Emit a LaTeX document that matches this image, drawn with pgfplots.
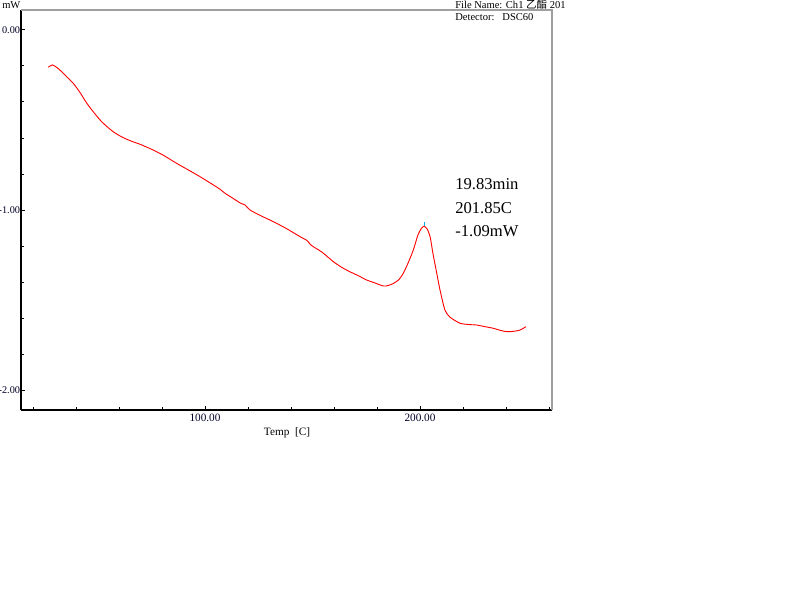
\documentclass[border=0pt]{standalone}
\usepackage{fontspec}
\setmainfont{Liberation Serif}
\newfontfamily\cjk{Noto Sans CJK SC}
\usepackage{pgfplots}
\pgfplotsset{compat=1.18}

% one reference pixel
\newlength{\pxu}
\setlength{\pxu}{0.25mm}

\pgfplotstableread{
T      mW
27.1  -0.207
29.0  -0.194
31.5  -0.212
34.1  -0.241
38.7  -0.296
42.0  -0.350
45.0  -0.407
48.2  -0.457
51.2  -0.500
54.2  -0.535
57.3  -0.565
60.5  -0.589
63.6  -0.607
66.7  -0.622
69.8  -0.635
75.2  -0.663
80.8  -0.697
86.4  -0.738
92.0  -0.776
97.7  -0.815
103.5 -0.858
107.0 -0.885
109.3 -0.907
113.0 -0.935
116.5 -0.962
118.6 -0.972
120.9 -1.000
126.5 -1.035
131.8 -1.065
138.0 -1.104
144.2 -1.148
147.5 -1.170
149.0 -1.192
150.4 -1.204
154.5 -1.235
159.7 -1.287
163.5 -1.318
167.4 -1.343
171.3 -1.365
175.2 -1.389
179.0 -1.405
182.9 -1.422
185.0 -1.420
187.3 -1.410
190.0 -1.389
192.2 -1.352
194.4 -1.296
196.9 -1.222
199.0 -1.140
200.6 -1.103
201.85 -1.090
203.3 -1.105
204.7 -1.148
206.0 -1.240
207.8 -1.352
209.3 -1.444
211.6 -1.556
214.0 -1.596
218.6 -1.629
222.5 -1.636
226.4 -1.639
230.2 -1.648
234.1 -1.657
237.2 -1.668
240.3 -1.676
243.5 -1.674
246.5 -1.667
249.3 -1.648
}\dsc

\begin{document}
\begin{tikzpicture}
\path[use as bounding box] ({-21*\pxu},{-(594-410)*\pxu}) rectangle ({(800-21)*\pxu},{410*\pxu});
\begin{axis}[
  at={(0,0)}, anchor=south west,
  scale only axis,
  width=531\pxu, height=400\pxu,
  xmin=14.4, xmax=261.4,
  ymin=-2.111, ymax=0.111,
  axis x line*=bottom, axis y line*=left,
  axis line style={black, line width=1.1pt, -},
  xtick={100,200},
  minor xtick={20,40,60,80,120,140,160,180,220,240,260},
  ytick={0,-1,-2},
  minor ytick={-0.2,-0.4,-0.6,-0.8,-1.2,-1.4,-1.6,-1.8},
  tick align=inside,
  major tick length=4\pxu,
  minor tick length=3\pxu,
  tick style={black, line width=0.7pt},
  xticklabel={\pgfmathprintnumber[fixed,fixed zerofill,precision=2]{\tick}},
  yticklabel={\pgfmathprintnumber[fixed,fixed zerofill,precision=2]{\tick}},
  /pgf/number format/assume math mode=true,
  tick label style={font=\fontsize{8}{9}\selectfont, text=black!85!blue},
  xticklabel style={yshift=1pt},
  yticklabel style={font=\fontsize{7.3}{8}\selectfont, anchor=east, inner xsep=0pt, xshift=-0.5pt},
  clip=false,
]
\addplot[red, line width=0.65pt, smooth, tension=0.4] table[x=T, y=mW] {\dsc};
\draw[cyan, line width=0.5pt] (axis cs:201.85,-1.09) -- ++(0pt,3pt);
\draw[gray!75, line width=1.5pt] (rel axis cs:0,1) -- (rel axis cs:1,1) -- (rel axis cs:1,0);
\node[anchor=west, font=\fontsize{11.8}{12}\selectfont, inner sep=0pt] at (axis cs:216.3,-0.856) {19.83min};
\node[anchor=west, font=\fontsize{11.8}{12}\selectfont, inner sep=0pt] at (axis cs:216.3,-0.989) {201.85C};
\node[anchor=west, font=\fontsize{11.8}{12}\selectfont, inner sep=0pt] at (axis cs:216.3,-1.117) {-1.09mW};
\end{axis}
% labels outside the frame, in reference pixels
\node[font=\fontsize{8}{9}\selectfont] at ({(287-21)*\pxu},{(410-433)*\pxu}) {Temp\ \ [C]};
\node[font=\fontsize{7.5}{8}\selectfont, anchor=west, inner sep=0pt] at ({(2-21)*\pxu},{(410-5)*\pxu}) {mW};
\node[font=\fontsize{7.5}{8}\selectfont, anchor=west, inner sep=0pt] at ({(455-21)*\pxu},{(410-5)*\pxu}) {File Name: Ch1 {\cjk 乙酯} 201};
\node[font=\fontsize{7.5}{8}\selectfont, anchor=west, inner sep=0pt] at ({(455-21)*\pxu},{(410-17)*\pxu}) {Detector:\ \ \ DSC60};
\end{tikzpicture}
\end{document}
